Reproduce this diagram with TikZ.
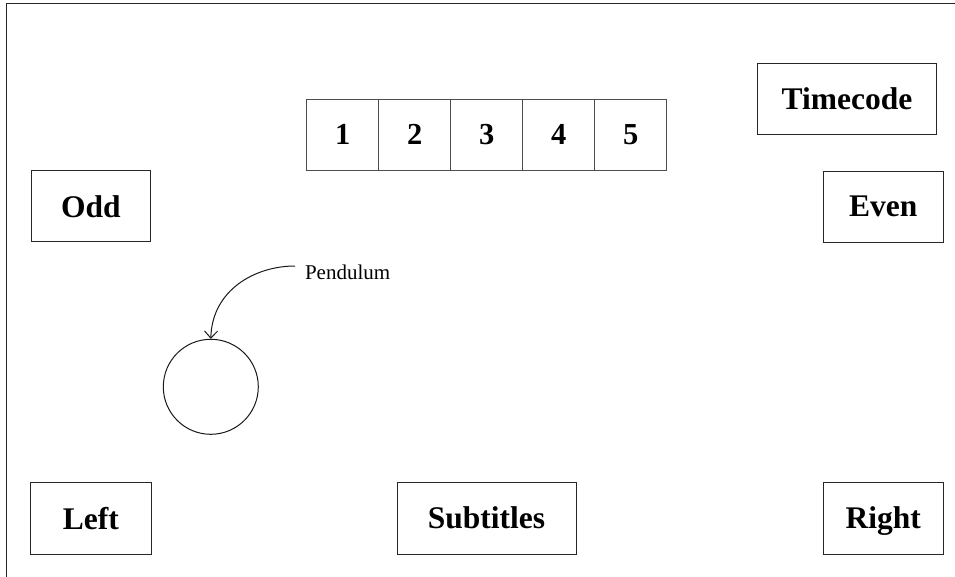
\documentclass[tikz,border=0pt]{standalone}
\usepackage{fontspec}
\setmainfont{Liberation Serif}
\usetikzlibrary{arrows.meta}
\begin{document}
\begin{tikzpicture}[x=1pt,y=-1pt,line width=1pt,
  lbl/.style={draw=black!85,inner sep=0pt,text depth=0pt,font=\fontsize{31.5}{36}\selectfont\bfseries},
  numbox/.style={draw=black!70,inner sep=0pt,minimum width=72pt,minimum height=71.7pt,font=\fontsize{30.5}{36}\selectfont\bfseries},
  note/.style={inner sep=0pt,font=\fontsize{21}{24}\selectfont}]
\useasboundingbox (0,0) rectangle (955,577);
\draw[black!85] (955,3.5) -- (6.7,3.5) -- (6.7,577);
% boxes
\node[lbl,minimum width=179.4pt,minimum height=71pt] (timecode) at (847,99) {Timecode};
\node[lbl,minimum width=119.5pt,minimum height=71pt] (odd) at (90.8,206.5) {Odd};
\node[lbl,minimum width=120pt,minimum height=71pt] (even) at (883.3,206.6) {Even};
\node[lbl,minimum width=120.5pt,minimum height=72pt] (left) at (90.8,518) {Left};
\node[lbl,minimum width=179pt,minimum height=72pt] (subtitles) at (486.5,518) {Subtitles};
\node[lbl,minimum width=120pt,minimum height=72pt] (right) at (883.3,518) {Right};
% number strip
\node[numbox] (n1) at (342.8,134.9) {1};
\node[numbox] (n2) at (414.8,134.9) {2};
\node[numbox] (n3) at (486.8,134.9) {3};
\node[numbox] (n4) at (558.8,134.9) {4};
\node[numbox] (n5) at (630.8,134.9) {5};
% pendulum
\node[draw=black!90,circle,inner sep=0pt,minimum size=95pt] (bob) at (210.8,386.8) {};
\node[note,anchor=base west] (plabel) at (304.5,279.3) {Pendulum};
\coordinate (pstart) at (295,266);
\draw[black!90,-{Straight Barb[length=7pt,width=13pt]}] (pstart) .. controls (255,266) and (212,290) .. (bob.north);
\end{tikzpicture}
\end{document}
